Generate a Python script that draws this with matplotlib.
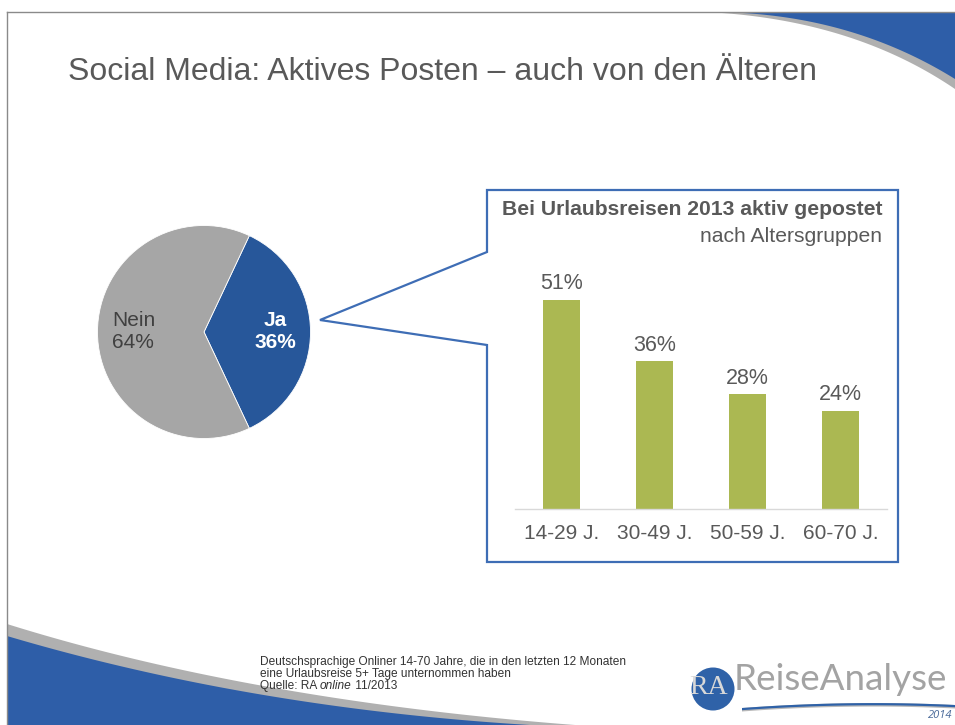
import numpy as np
import matplotlib
matplotlib.use("Agg")
import matplotlib.pyplot as plt
from matplotlib.patches import Polygon, Circle

plt.rcParams['font.family'] = ['Liberation Sans', 'DejaVu Sans']

# Data
pie_labels = ['Ja', 'Nein']
pie_values = [36, 64]
pie_colors = ['#27579A', '#A6A6A6']

age_groups = ['14-29 J.', '30-49 J.', '50-59 J.', '60-70 J.']
posted = [51, 36, 28, 24]

title = 'Social Media: Aktives Posten – auch von den Älteren'
box_title = 'Bei Urlaubsreisen 2013 aktiv gepostet'
box_subtitle = 'nach Altersgruppen'
footnote = ['Deutschsprachige Onliner 14-70 Jahre, die in den letzten 12 Monaten',
            'eine Urlaubsreise 5+ Tage unternommen haben']

W, H = 955, 725
fig = plt.figure(figsize=(W / 100, H / 100), dpi=100)

# background axes in pixel coordinates (y down)
bg = fig.add_axes([0, 0, 1, 1])
bg.set_xlim(0, W)
bg.set_ylim(H, 0)
bg.axis('off')


def qbez(p0, p1, p2, n=80):
    t = np.linspace(0, 1, n)[:, None]
    p0, p1, p2 = map(np.array, (p0, p1, p2))
    return (1 - t) ** 2 * p0 + 2 * (1 - t) * t * p1 + t ** 2 * p2


blue = '#2E5EA8'
# top right swoosh
g = qbez((722, 13), (858, 23), (955, 89))
bg.add_patch(Polygon(np.vstack([g, [(955, 13)]]), closed=True, fc='#B0B0B0', ec='none'))
b = qbez((743, 13), (860, 20), (955, 79))
bg.add_patch(Polygon(np.vstack([b, [(955, 13)]]), closed=True, fc=blue, ec='none'))

# bottom left swoosh
g = qbez((7, 624), (250, 700), (575, 725))
bg.add_patch(Polygon(np.vstack([g, [(7, 725)]]), closed=True, fc='#B0B0B0', ec='none'))
b = qbez((7, 636), (250, 708), (530, 725))
bg.add_patch(Polygon(np.vstack([b, [(7, 725)]]), closed=True, fc=blue, ec='none'))

# slide border
bg.plot([7, W], [12, 12], color='#8A8A8A', lw=1.0)
bg.plot([7, 7], [12, H], color='#8A8A8A', lw=1.0)

# title
bg.text(68, 72, title, fontsize=23, color='#595959', va='center', ha='left')

# callout box
callout = [(487, 190), (898, 190), (898, 562), (487, 562), (487, 345),
           (320, 320), (487, 252)]
bg.add_patch(Polygon(callout, closed=True, fc='white', ec='#3E6DB5', lw=1.6, zorder=2))
bg.text(882, 209, box_title, fontsize=15.2, fontweight='bold', color='#595959',
        ha='right', va='center', zorder=3)
bg.text(882, 236, box_subtitle, fontsize=15.2, color='#595959',
        ha='right', va='center', zorder=3)

# footnote
fx, fy = 260, 662
fs = 8.6
for i, line in enumerate(footnote):
    bg.text(fx, fy + 12 * i, line, fontsize=fs, color='#333333', va='center')
t1 = bg.text(fx, fy + 24, 'Quelle: RA ', fontsize=fs, color='#333333', va='center')
t2 = bg.annotate('online', xy=(1, 0), xycoords=t1, fontsize=fs, color='#333333',
                 style='italic', ha='left', va='bottom')
bg.annotate(' 11/2013', xy=(1, 0), xycoords=t2, fontsize=fs, color='#333333',
            ha='left', va='bottom')

# logo
bg.add_patch(Circle((713, 689), 21.5, fc='#2F62A8', ec='none'))
bg.text(709, 688, 'RA', fontsize=20, color='#D8D8D8', ha='center', va='center',
        family=['Liberation Serif', 'DejaVu Serif'])
bg.text(734, 680, 'ReiseAnalyse', fontsize=26.5, color='#A3A3A3', ha='left', va='center',
        family=['Lato', 'DejaVu Sans'])
sw = qbez((742, 708), (850, 700), (955, 705), 60)
bg.add_patch(Polygon(np.vstack([sw, sw[::-1] + [0, 3.5]]), closed=True, fc='#B8B8B8', ec='none'))
bg.add_patch(Polygon(np.vstack([sw, sw[::-1] + [0, 2.2]]), closed=True, fc='#2F62A8', ec='none'))
bg.text(952, 716, '2014', fontsize=8, style='italic', color='#4A6A9A', ha='right', va='center',
        family=['Open Sans', 'DejaVu Sans'])

# pie chart
cx, cy, r = 204, 332, 106.5
pax = fig.add_axes([(cx - r) / W, (H - cy - r) / H, 2 * r / W, 2 * r / H])
pax.pie(pie_values, colors=pie_colors, startangle=-pie_values[0] * 1.8, counterclock=True,
        wedgeprops=dict(edgecolor='white', linewidth=0.6))
pax.set_xlim(-1, 1)
pax.set_ylim(-1, 1)
pax.text(0.67, 0.0, f'{pie_labels[0]}\n{pie_values[0]}%', fontsize=15, fontweight='bold',
         color='white', ha='center', va='center')
pax.text(-0.86, 0.0, f'{pie_labels[1]}\n{pie_values[1]}%', fontsize=15,
         color='#404040', ha='left', va='center')

# bar chart
bax = fig.add_axes([515 / W, (H - 509) / H, 372 / W, 246 / H])
bax.set_facecolor('none')
bax.set_zorder(3)
x = np.arange(len(age_groups))
bars = bax.bar(x, posted, width=0.4, color='#ABB852')
bax.set_xlim(-0.5, len(age_groups) - 0.5)
bax.set_ylim(0, 60)
for s in ['top', 'right', 'left']:
    bax.spines[s].set_visible(False)
bax.spines['bottom'].set_color('#D9D9D9')
bax.spines['bottom'].set_linewidth(1.0)
bax.set_yticks([])
bax.set_xticks(x)
bax.set_xticklabels(age_groups, fontsize=15, color='#595959')
bax.tick_params(axis='x', length=0, pad=11)
for bar, v in zip(bars, posted):
    bax.annotate(f'{v}%', xy=(bar.get_x() + bar.get_width() / 2, v), xytext=(0, 11.5),
                 textcoords='offset points', ha='center', va='center',
                 fontsize=15.5, color='#595959')

fig.savefig('out.png', dpi=100)
